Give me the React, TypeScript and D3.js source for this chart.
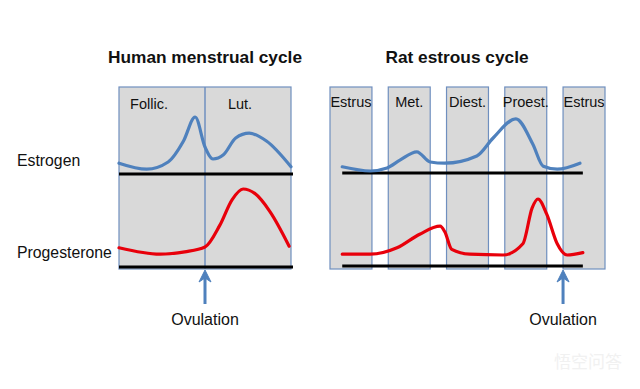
import React from "react";
import * as d3 from "d3";

// Human cycle, x in days (0-28), levels relative (0-1)
const humanPhases = ["Follic.", "Lut."];
const humanEstrogen: [number, number][] = [
  [0, 0.18], [4.5, 0.08], [8, 0.2], [10.5, 0.55], [12.4, 0.95],
  [14, 0.45], [15.3, 0.25], [17, 0.32], [19, 0.6], [21.2, 0.68],
  [24, 0.55], [28, 0.12],
];
const humanProgesterone: [number, number][] = [
  [0, 0.24], [6.7, 0.16], [10.7, 0.19], [14, 0.25], [16.4, 0.52],
  [18.4, 0.84], [20.2, 0.975], [22.1, 0.92], [24.6, 0.69], [27.7, 0.26],
];
const humanOvulation = 14;

// Rat cycle, x in stage units (0-5)
const ratStages = ["Estrus", "Met.", "Diest.", "Proest.", "Estrus"];
const ratEstrogen: [number, number][] = [
  [0.21, 0.12], [0.69, 0.05], [0.98, 0.1], [1.2, 0.23], [1.49, 0.37],
  [1.72, 0.2], [1.97, 0.18], [2.52, 0.3], [2.8, 0.6], [3.19, 0.92],
  [3.48, 0.5], [3.66, 0.13], [3.9, 0.08], [4.29, 0.18],
];
const ratProgesterone: [number, number][] = [
  [0.21, 0.16], [0.69, 0.16], [1.15, 0.24], [1.54, 0.41], [1.89, 0.51],
  [1.97, 0.44], [2.09, 0.22], [2.4, 0.16], [2.97, 0.15], [3.31, 0.29],
  [3.47, 0.74], [3.57, 0.85], [3.72, 0.66], [3.9, 0.29], [4.07, 0.15],
  [4.34, 0.18],
];
const ratBaseline = [0.21, 4.34];

const hormones = ["Estrogen", "Progesterone"];

const FONT = "Arial, 'Liberation Sans', sans-serif";
const BLUE = "#4f81bd";
const RED = "#e8000b";
const PANEL = "#d9d9d9";
const EDGE = "#6f8fbf";

export default function App() {
  const w = 640;
  const h = 389;
  const top = 87;
  const bottom = 269;

  const xHuman = d3.scaleLinear().domain([0, 28]).range([119, 291]);
  const xRat = d3.scaleLinear().domain([0, 5]).range([330, 621.3]);
  const ratBand = d3
    .scaleBand<number>()
    .domain(d3.range(ratStages.length))
    .range([330, 605])
    .paddingInner(0.28)
    .paddingOuter(0);

  const yEst = d3.scaleLinear().domain([0, 1]).range([174, 114]);
  const yProg = d3.scaleLinear().domain([0, 1]).range([267, 187]);

  const lineFor = (x: d3.ScaleLinear<number, number>, y: d3.ScaleLinear<number, number>) =>
    d3
      .line<[number, number]>()
      .x((d) => x(d[0]))
      .y((d) => y(d[1]))
      .curve(d3.curveMonotoneX);

  const arrow = (x: number, key: string) => (
    <g key={key}>
      <line x1={x} x2={x} y1={304} y2={273} stroke={BLUE} strokeWidth={3} />
      <path
        d={`M${x - 6},${282} L${x},${270} L${x + 6},${282} L${x},${278} Z`}
        fill={BLUE}
        stroke={BLUE}
        strokeWidth={1}
        strokeLinejoin="round"
      />
      <text x={x} y={325} textAnchor="middle" fontSize={16} fontFamily={FONT} fill="#111">
        Ovulation
      </text>
    </g>
  );

  const divider = xHuman(humanOvulation);

  return (
    <svg
      width={w}
      height={h}
      viewBox={`0 0 ${w} ${h}`}
      style={{ position: "absolute", left: 0, top: 0, background: "#fff" }}
    >
      {/* Titles */}
      <text x={205} y={63} textAnchor="middle" fontSize={17.3} fontWeight="bold" fontFamily={FONT} fill="#111">
        Human menstrual cycle
      </text>
      <text x={457} y={63} textAnchor="middle" fontSize={17.3} fontWeight="bold" fontFamily={FONT} fill="#111">
        Rat estrous cycle
      </text>

      {/* Hormone row labels */}
      {hormones.map((name, i) => (
        <text key={name} x={17} y={i === 0 ? 166 : 258} fontSize={15.8} fontFamily={FONT} fill="#111">
          {name}
        </text>
      ))}

      {/* Human panel */}
      <rect
        x={xHuman(0)}
        y={top}
        width={xHuman(28) - xHuman(0)}
        height={bottom - top}
        fill={PANEL}
        stroke={EDGE}
        strokeWidth={1.2}
      />
      <line x1={divider} x2={divider} y1={top} y2={bottom} stroke={EDGE} strokeWidth={1.5} />
      {humanPhases.map((p, i) => (
        <text
          key={p}
          x={i === 0 ? (xHuman(0) + divider) / 2 - 13 : (divider + xHuman(28)) / 2 - 8}
          y={109}
          textAnchor="middle"
          fontSize={14.5}
          fontFamily={FONT}
          fill="#111"
        >
          {p}
        </text>
      ))}

      {/* Rat stage panels */}
      {ratStages.map((s, i) => (
        <g key={i}>
          <rect
            x={ratBand(i)}
            y={top}
            width={ratBand.bandwidth()}
            height={bottom - top}
            fill={PANEL}
            stroke={EDGE}
            strokeWidth={1.2}
          />
          <text
            x={(ratBand(i) as number) + ratBand.bandwidth() / 2}
            y={107}
            textAnchor="middle"
            fontSize={14.5}
            fontFamily={FONT}
            fill="#111"
          >
            {s}
          </text>
        </g>
      ))}

      {/* Baselines */}
      <line x1={xHuman(0)} x2={xHuman(28) + 2} y1={yEst(0)} y2={yEst(0)} stroke="#000" strokeWidth={3} />
      <line x1={xHuman(0)} x2={xHuman(28) + 2} y1={yProg(0)} y2={yProg(0)} stroke="#000" strokeWidth={3} />
      <line x1={xRat(ratBaseline[0])} x2={xRat(ratBaseline[1])} y1={yEst(0) - 1} y2={yEst(0) - 1} stroke="#000" strokeWidth={3} />
      <line x1={xRat(ratBaseline[0])} x2={xRat(ratBaseline[1])} y1={yProg(0) - 1} y2={yProg(0) - 1} stroke="#000" strokeWidth={3} />

      {/* Curves */}
      <path d={lineFor(xHuman, yEst)(humanEstrogen) ?? ""} fill="none" stroke={BLUE} strokeWidth={3.2} strokeLinecap="round" />
      <path d={lineFor(xHuman, yProg)(humanProgesterone) ?? ""} fill="none" stroke={RED} strokeWidth={3.2} strokeLinecap="round" />
      <path d={lineFor(xRat, yEst)(ratEstrogen) ?? ""} fill="none" stroke={BLUE} strokeWidth={3.2} strokeLinecap="round" />
      <path d={lineFor(xRat, yProg)(ratProgesterone) ?? ""} fill="none" stroke={RED} strokeWidth={3.2} strokeLinecap="round" />

      {/* Ovulation arrows */}
      {arrow(divider, "h")}
      {arrow(ratBand(4) as number, "r")}

      {/* Watermark */}
      <text x={588} y={368} textAnchor="middle" fontSize={17} fontFamily="'Noto Sans CJK SC', sans-serif" fill="#f1f1f1">
        悟空问答
      </text>
    </svg>
  );
}
